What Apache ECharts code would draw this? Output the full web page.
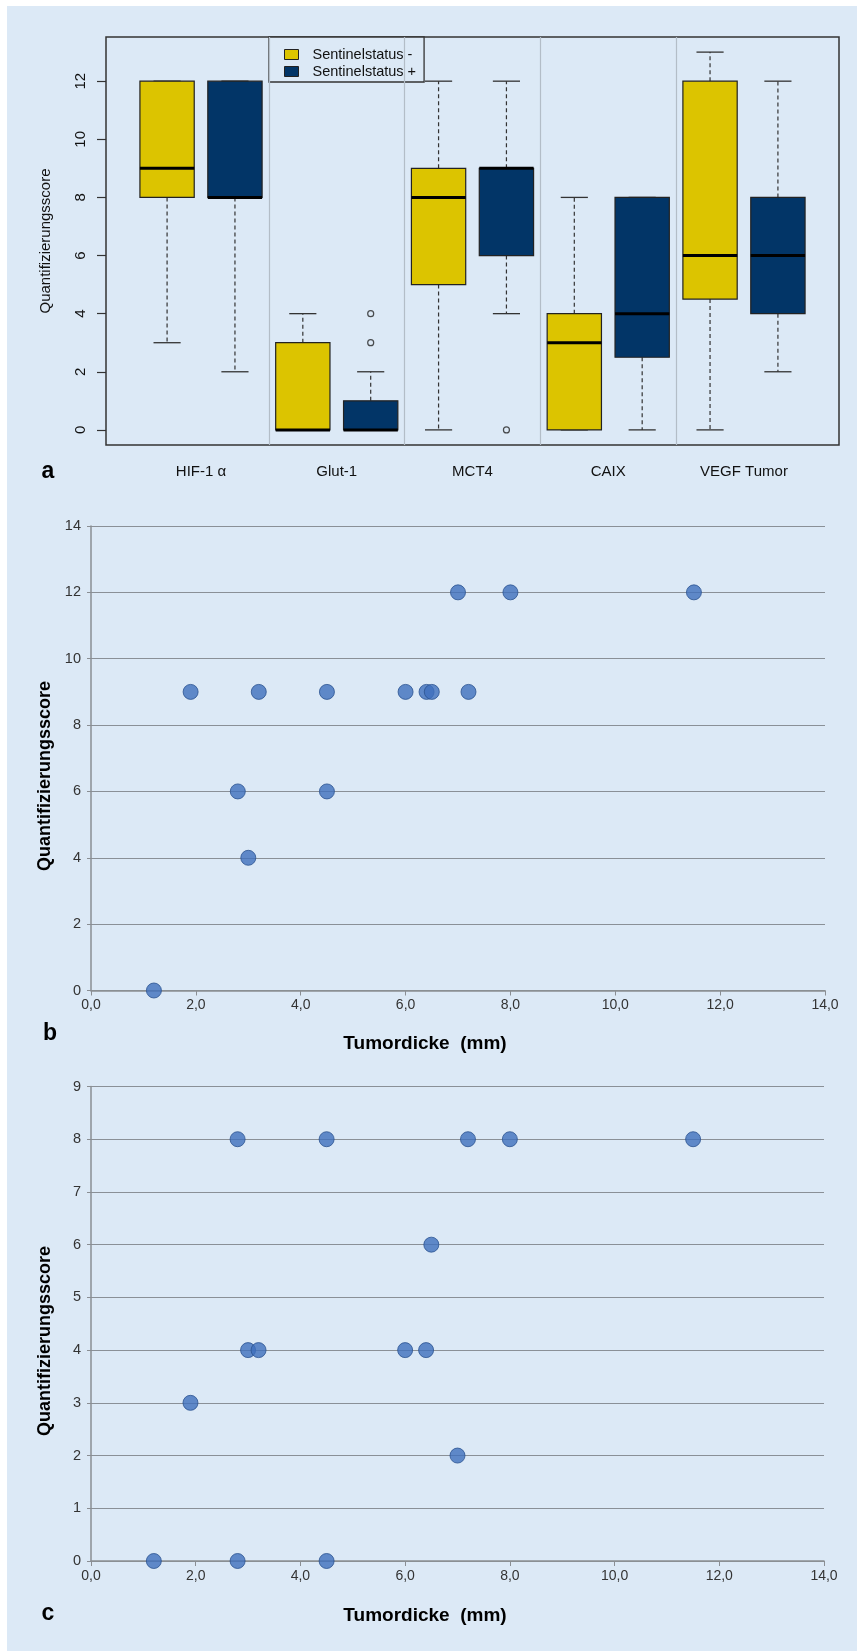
<!DOCTYPE html>
<html>
<head>
<meta charset="utf-8">
<script src="https://cdn.jsdelivr.net/npm/echarts@6/dist/echarts.min.js"></script>
<style>
  html, body { margin: 0; padding: 0; background: #ffffff; }
  #chart { width: 857px; height: 1651px; }
</style>
</head>
<body>
<div id="chart"></div>
<script>
// panel a: boxplots, one pair per marker
var groups = ['HIF-1 α', 'Glut-1', 'MCT4', 'CAIX', 'VEGF Tumor'];
// [lower whisker, Q1, median, Q3, upper whisker]
var negStats = [[3, 8, 9, 12, 12], [0, 0, 0, 3, 4], [0, 5, 8, 9, 12], [0, 0, 3, 4, 8], [0, 4.5, 6, 12, 13]];
var posStats = [[2, 8, 8, 12, 12], [0, 0, 0, 1, 2], [4, 6, 9, 9, 12], [0, 2.5, 4, 8, 8], [2, 4, 6, 8, 12]];
// [group index, value] outliers of Sentinelstatus +
var posOutliers = [[1, 3], [1, 4], [2, 0]];
var scoreTicksA = [0, 2, 4, 6, 8, 10, 12];

// panel b
var thickB = [1.2, 1.9, 2.8, 3.0, 3.2, 4.5, 4.5, 6.0, 6.4, 6.5, 7.0, 7.2, 8.0, 11.5];
var scoreB = [0, 9, 6, 4, 9, 9, 6, 9, 9, 9, 12, 9, 12, 12];
// panel c
var thickC = [1.2, 1.9, 2.8, 2.8, 3.0, 3.2, 4.5, 4.5, 6.0, 6.4, 6.5, 7.0, 7.2, 8.0, 11.5];
var scoreC = [0, 3, 8, 0, 4, 4, 8, 0, 4, 4, 6, 2, 8, 8, 8];

var xTickLabels = ['0,0', '2,0', '4,0', '6,0', '8,0', '10,0', '12,0', '14,0'];

var FONT = "'Liberation Sans', Arial, sans-serif";
var BG = '#dce9f6';
var YELLOW = '#dcc400';
var NAVY = '#023567';

function renderBox(params, api) {
  var pos = api.value(0);
  var pLow = api.coord([pos, api.value(1)]);
  var pQ1 = api.coord([pos, api.value(2)]);
  var pMed = api.coord([pos, api.value(3)]);
  var pQ3 = api.coord([pos, api.value(4)]);
  var pHigh = api.coord([pos, api.value(5)]);
  var half = api.size([0.8, 0])[0] / 2;
  var cap = api.size([0.4, 0])[0] / 2;
  var x = pMed[0];
  var dashed = { stroke: '#333', lineWidth: 1.2, lineDash: [4, 3] };
  var solid = { stroke: '#333', lineWidth: 1.3 };
  return {
    type: 'group',
    children: [
      { type: 'line', shape: { x1: x, y1: pQ1[1], x2: x, y2: pLow[1] }, style: dashed },
      { type: 'line', shape: { x1: x, y1: pQ3[1], x2: x, y2: pHigh[1] }, style: dashed },
      { type: 'line', shape: { x1: x - cap, y1: pLow[1], x2: x + cap, y2: pLow[1] }, style: solid },
      { type: 'line', shape: { x1: x - cap, y1: pHigh[1], x2: x + cap, y2: pHigh[1] }, style: solid },
      { type: 'rect', shape: { x: x - half, y: pQ3[1], width: half * 2, height: pQ1[1] - pQ3[1] },
        style: { fill: api.visual('color'), stroke: '#222', lineWidth: 1.2 } },
      { type: 'line', shape: { x1: x - half, y1: pMed[1], x2: x + half, y2: pMed[1] },
        style: { stroke: '#000', lineWidth: 3 } }
    ]
  };
}

var myChart = echarts.init(document.getElementById('chart'), null, { renderer: 'canvas' });

var scatterStyle = {
  symbol: 'circle',
  symbolSize: 15,
  itemStyle: { color: '#3f6fbd', borderColor: '#2a5290', borderWidth: 1 }
};

var valueAxisB = {
  gridIndex: 1, type: 'value', min: 0, max: 14, interval: 2,
  axisLine: { show: true, lineStyle: { color: '#8a8e93', width: 1.5 } },
  axisTick: { show: true, length: 5, lineStyle: { color: '#8a8e93' } },
  axisLabel: { fontSize: 14, color: '#333', fontFamily: FONT, margin: 8,
    formatter: function (v) { return xTickLabels[Math.round(v / 2)]; } },
  splitLine: { show: false }
};

var option = {
  animation: false,
  textStyle: { fontFamily: FONT },
  graphic: [
    { type: 'rect', z: -10, silent: true, shape: { x: 7, y: 6, width: 850, height: 1645 }, style: { fill: BG } },
    { type: 'text', x: 48, y: 472, style: { text: 'a', align: 'center', verticalAlign: 'middle', fontSize: 23, fontWeight: 'bold', fontFamily: FONT, fill: '#000' } },
    { type: 'text', x: 50, y: 1034, style: { text: 'b', align: 'center', verticalAlign: 'middle', fontSize: 23, fontWeight: 'bold', fontFamily: FONT, fill: '#000' } },
    { type: 'text', x: 48, y: 1614, style: { text: 'c', align: 'center', verticalAlign: 'middle', fontSize: 23, fontWeight: 'bold', fontFamily: FONT, fill: '#000' } },
    { type: 'text', x: 425, y: 1044, style: { text: 'Tumordicke  (mm)', align: 'center', verticalAlign: 'middle', fontSize: 19, fontWeight: 'bold', fontFamily: FONT, fill: '#000' } },
    { type: 'text', x: 425, y: 1616, style: { text: 'Tumordicke  (mm)', align: 'center', verticalAlign: 'middle', fontSize: 19, fontWeight: 'bold', fontFamily: FONT, fill: '#000' } },
    { type: 'text', x: 45, y: 776, rotation: Math.PI / 2, style: { text: 'Quantifizierungsscore', align: 'center', verticalAlign: 'middle', fontSize: 18, fontWeight: 'bold', fontFamily: FONT, fill: '#000' } },
    { type: 'text', x: 45, y: 1341, rotation: Math.PI / 2, style: { text: 'Quantifizierungsscore', align: 'center', verticalAlign: 'middle', fontSize: 18, fontWeight: 'bold', fontFamily: FONT, fill: '#000' } }
  ],
  legend: {
    data: ['Sentinelstatus -', 'Sentinelstatus +'],
    orient: 'vertical',
    left: 269, top: 37,
    icon: 'rect',
    itemWidth: 14, itemHeight: 10, itemGap: 2,
    padding: [10, 8, 3, 15],
    borderColor: '#333', borderWidth: 1.3,
    backgroundColor: BG,
    selectedMode: false,
    itemStyle: { borderColor: '#222', borderWidth: 1 },
    textStyle: { fontSize: 14.5, color: '#111', fontFamily: FONT, lineHeight: 15, padding: [0, 0, 0, 9] }
  },
  grid: [
    { left: 106, right: 18, top: 37, bottom: 1651 - 445, show: true, borderColor: '#333', borderWidth: 1.5, backgroundColor: 'transparent' },
    { left: 91, right: 32, top: 526, bottom: 1651 - 990.5 },
    { left: 91, right: 33, top: 1086.5, bottom: 1651 - 1561 }
  ],
  xAxis: [
    { gridIndex: 0, type: 'value', min: 0.1, max: 10.9,
      axisLine: { show: false }, axisTick: { show: false }, splitLine: { show: false },
      axisLabel: { fontSize: 15, color: '#111', margin: 19,
        customValues: groups.map(function (g, i) { return 2 * i + 1.5; }),
        formatter: function (v) { return groups[Math.round((v - 1.5) / 2)]; } } },
    valueAxisB,
    Object.assign({}, valueAxisB, { gridIndex: 2 })
  ],
  yAxis: [
    { gridIndex: 0, type: 'value', min: -0.52, max: 13.52,
      name: 'Quantifizierungsscore', nameLocation: 'middle', nameGap: 53,
      nameTextStyle: { fontSize: 15, color: '#111' },
      axisLine: { show: false }, splitLine: { show: false },
      axisTick: { show: true, length: 9, customValues: scoreTicksA, lineStyle: { color: '#333', width: 1.2 } },
      axisLabel: { fontSize: 15, color: '#111', rotate: 90, margin: 18, customValues: scoreTicksA } },
    { gridIndex: 1, type: 'value', min: 0, max: 14, interval: 2,
      axisLine: { show: true, lineStyle: { color: '#8a8e93', width: 1.5 } },
      axisTick: { show: true, length: 4, lineStyle: { color: '#8a8e93' } },
      axisLabel: { fontSize: 14.5, color: '#333', margin: 10 },
      splitLine: { show: true, lineStyle: { color: '#8a9097', width: 1.2 } } },
    { gridIndex: 2, type: 'value', min: 0, max: 9, interval: 1,
      axisLine: { show: true, lineStyle: { color: '#8a8e93', width: 1.5 } },
      axisTick: { show: true, length: 4, lineStyle: { color: '#8a8e93' } },
      axisLabel: { fontSize: 14.5, color: '#333', margin: 10 },
      splitLine: { show: true, lineStyle: { color: '#8a9097', width: 1.2 } } }
  ],
  series: [
    {
      name: 'outliers', type: 'scatter', xAxisIndex: 0, yAxisIndex: 0, z: 1,
      symbol: 'circle', symbolSize: 6,
      itemStyle: { color: BG, borderColor: '#222', borderWidth: 1.2 },
      data: posOutliers.map(function (o) { return [2 * o[0] + 2, o[1]]; }),
      markLine: {
        silent: true, symbol: ['none', 'none'], label: { show: false },
        lineStyle: { color: '#b3bdc7', type: 'solid', width: 1.2 },
        data: groups.slice(1).map(function (g, i) { return { xAxis: 2 * i + 2.5 }; })
      }
    },
    {
      name: 'Sentinelstatus -', type: 'custom', xAxisIndex: 0, yAxisIndex: 0, z: 3,
      itemStyle: { color: YELLOW },
      renderItem: renderBox,
      encode: { x: 0, y: [1, 2, 3, 4, 5] },
      data: negStats.map(function (s, i) { return [2 * i + 1].concat(s); })
    },
    {
      name: 'Sentinelstatus +', type: 'custom', xAxisIndex: 0, yAxisIndex: 0, z: 3,
      itemStyle: { color: NAVY },
      renderItem: renderBox,
      encode: { x: 0, y: [1, 2, 3, 4, 5] },
      data: posStats.map(function (s, i) { return [2 * i + 2].concat(s); })
    },
    Object.assign({ name: 'b', type: 'scatter', xAxisIndex: 1, yAxisIndex: 1,
      data: thickB.map(function (t, i) { return [t, scoreB[i]]; }) }, scatterStyle),
    Object.assign({ name: 'c', type: 'scatter', xAxisIndex: 2, yAxisIndex: 2,
      data: thickC.map(function (t, i) { return [t, scoreC[i]]; }) }, scatterStyle)
  ]
};

myChart.setOption(option);
window.onresize = myChart.resize;
</script>
</body>
</html>
